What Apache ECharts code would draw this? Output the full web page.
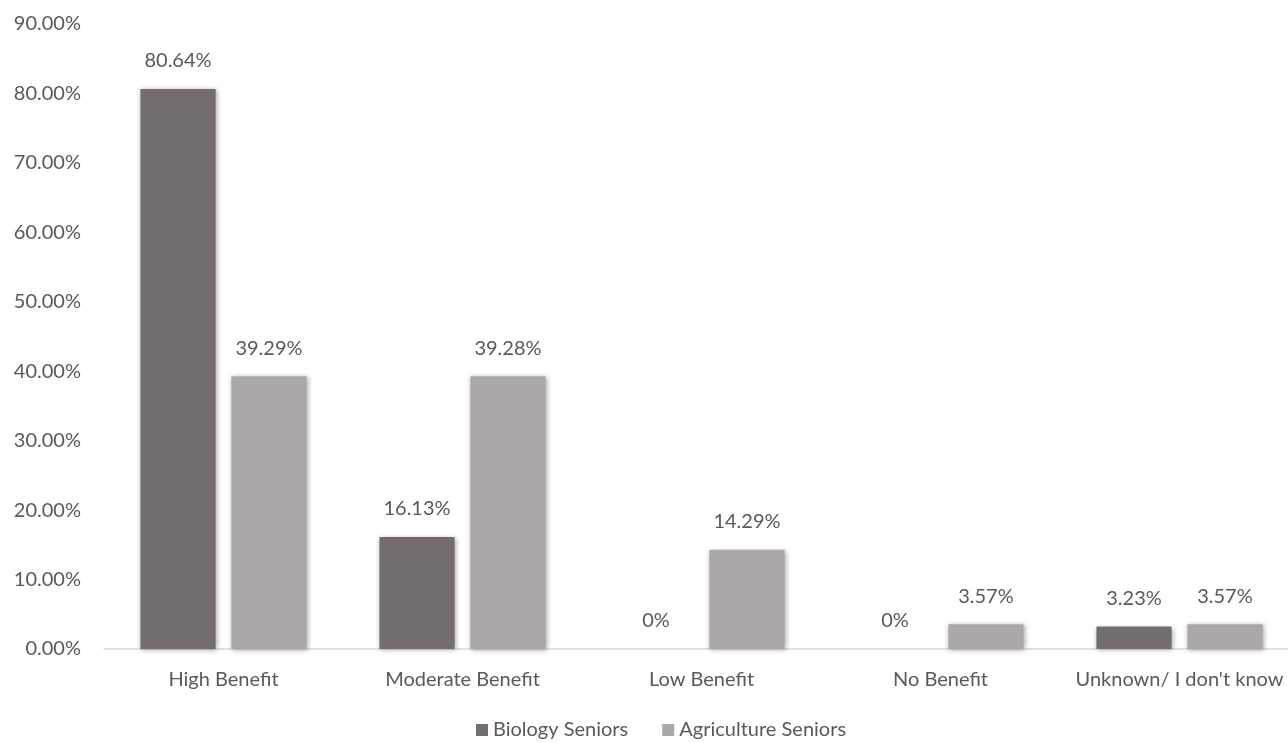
<!DOCTYPE html>
<html>
<head>
<meta charset="utf-8">
<script src="https://cdn.jsdelivr.net/npm/echarts@6/dist/echarts.min.js"></script>
<style>html,body{margin:0;padding:0;background:#fff}#c{width:1288px;height:743px}</style>
</head>
<body>
<div id="c"></div>
<script>
const categories = ["High Benefit", "Moderate Benefit", "Low Benefit", "No Benefit", "Unknown/ I don't know"];
const biology = [80.64, 16.13, 0, 0, 3.23];
const agriculture = [39.29, 39.28, 14.29, 3.57, 3.57];
const seriesNames = ["Biology Seniors", "Agriculture Seniors"];

const FONT = "Lato, 'Open Sans', sans-serif";
const TXT = "#595959";
const FS = 20;
const fmt = p => p.value === 0 ? "0%" : p.value.toFixed(2) + "%";
const shadow = {shadowBlur: 5, shadowColor: "rgba(0,0,0,0.35)", shadowOffsetX: 1, shadowOffsetY: 1};

const chart = echarts.init(document.getElementById('c'));
chart.setOption({
  animation: false,
  textStyle: {fontFamily: FONT},
  legend: {
    bottom: -2, left: 471,
    itemWidth: 12, itemHeight: 12, itemGap: 34,
    icon: 'rect',
    textStyle: {color: TXT, fontSize: FS, fontFamily: FONT},
    data: seriesNames
  },
  grid: {left: 104, width: 1195, top: 24, bottom: 94, containLabel: false, outerBoundsMode: 'none'},
  xAxis: {
    type: 'category', data: categories,
    axisLine: {lineStyle: {color: '#d9d9d9', width: 1.5}},
    axisTick: {show: false},
    axisLabel: {color: TXT, fontSize: FS, fontFamily: FONT, margin: 21, interval: 0}
  },
  yAxis: {
    type: 'value', min: 0, max: 90, interval: 10,
    splitLine: {show: false},
    axisLine: {show: false}, axisTick: {show: false},
    axisLabel: {color: TXT, fontSize: FS, fontFamily: FONT, margin: 23, formatter: v => v.toFixed(2) + "%"}
  },
  series: [
    {
      name: seriesNames[0], type: 'bar', data: biology,
      barGap: '21%', barCategoryGap: '30.5%',
      itemStyle: Object.assign({color: '#736d6d'}, shadow),
      label: {show: true, position: 'top', distance: 18, color: TXT, fontSize: FS, fontFamily: FONT, formatter: fmt}
    },
    {
      name: seriesNames[1], type: 'bar', data: agriculture,
      itemStyle: Object.assign({color: '#aba8a7'}, shadow),
      label: {show: true, position: 'top', distance: 18, color: TXT, fontSize: FS, fontFamily: FONT, formatter: fmt}
    }
  ]
});
</script>
</body>
</html>
